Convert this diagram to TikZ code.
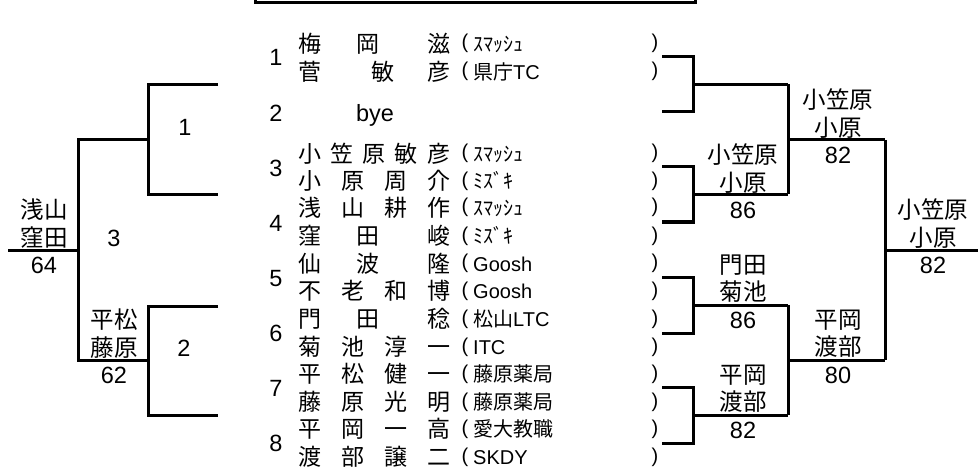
\documentclass[tikz,border=0pt]{standalone}
\usepackage{fontspec}
\setmainfont{Liberation Sans}
\newfontfamily\jp{Noto Sans CJK JP}

\begin{document}
\begin{tikzpicture}[x=1pt,y=-1pt, line join=miter]
				\useasboundingbox (0,0) rectangle (978,468);
				\clip (0,0) rectangle (978,468);
				
				% ===== style =====
				\tikzset{
					bk/.style={line width=3pt},
					num/.style={font=\fontsize{23.5}{27}\selectfont, inner sep=0pt, text height=20.7pt, text depth=2.8pt},
					who/.style={font=\jp\fontsize{23}{27}\selectfont, inner sep=0pt, anchor=west, text height=20.2pt, text depth=2.8pt},
					team/.style={font=\fontsize{20}{24}\selectfont, inner sep=0pt, anchor=west, text height=17.6pt, text depth=2.4pt},
					paren/.style={font=\fontsize{20}{24}\selectfont, inner sep=0pt, text height=15pt, text depth=5pt},
					win/.style={font=\jp\fontsize{23.5}{27.5}\selectfont, align=center, inner sep=0pt}
				}
				
				% ===== 見出し枠 =====
				\draw[bk] (255,-10) rectangle (695,2.5);
				
				% ===== 番号 =====
				\foreach \i in {1,...,8}{
					\node[num] (n\i) at (276,{57+55.1*(\i-1)}) {\i};
				}
				
				% ===== 選手・所属 =====
				\foreach \y/\nm/\tm [count=\k] in {
					44/{梅\hspace{35pt}岡\hfill 滋}/{\jp ｽﾏｯｼｭ},
					72/{菅\hspace{50pt}敏\hfill 彦}/{{\jp 県庁}TC},
					154/{小\hfill 笠\hfill 原\hfill 敏\hfill 彦}/{\jp ｽﾏｯｼｭ},
					181/{小\hfill 原\hfill 周\hfill 介}/{\jp ﾐｽﾞｷ},
					208/{浅\hfill 山\hfill 耕\hfill 作}/{\jp ｽﾏｯｼｭ},
					236/{窪\hspace{35pt}田\hfill 峻}/{\jp ﾐｽﾞｷ},
					264/{仙\hspace{35pt}波\hfill 隆}/{Goosh},
					291/{不\hfill 老\hfill 和\hfill 博}/{Goosh},
					319/{門\hspace{35pt}田\hfill 稔}/{{\jp 松山}LTC},
					347/{菊\hfill 池\hfill 淳\hfill 一}/{ITC},
					374/{平\hfill 松\hfill 健\hfill 一}/{\jp 藤原薬局},
					402/{藤\hfill 原\hfill 光\hfill 明}/{\jp 藤原薬局},
					429/{平\hfill 岡\hfill 一\hfill 高}/{\jp 愛大教職},
					457/{渡\hfill 部\hfill 譲\hfill 二}/{SKDY}}{
					\node[who] (p\k) at (298,\y) {\makebox[152pt][s]{\nm}};
					\node[paren] (lp\k) at (465,\y) {(};
					\node[team] (c\k) at (473,\y) {\tm};
					\node[paren] (rp\k) at (655,\y) {)};
				}
				\node[num] (bye) at (375,113) {bye};
				
				% ===== 左の山 =====
				\draw[bk] (218,85) -- (148,85) -- (148,195) -- (218,195);
				\draw[bk] (218,306) -- (148,306) -- (148,415) -- (218,415);
				\draw[bk] (148,140) -- (78,140) -- (78,360) -- (148,360);
				\draw[bk] (78,250) -- (8,250);
				\node[num] (g1) at (185,127) {1};
				\node[num] (g2) at (184,348) {2};
				\node[num] (g3) at (114,238) {3};
				
				% ===== 右の山 =====
				\foreach \t/\b in {57/112,167/222,277/333,387/443}{
					\draw[bk] (662,\t) -- (693,\t) -- (693,\b) -- (662,\b);
					\draw[bk] (693,{(\t+\b)/2}) -- (788,{(\t+\b)/2});
				}
				\draw[bk] (788,84.5) -- (788,194.5);
				\draw[bk] (788,305) -- (788,415);
				\draw[bk] (788,140) -- (885,140);
				\draw[bk] (788,360) -- (885,360);
				\draw[bk] (885,140) -- (885,360);
				\draw[bk] (885,250) -- (980,250);
				
				% ===== 勝者・スコア =====
				\foreach \x/\y/\pa/\pb/\sc [count=\k] in {
					44/250/浅山/窪田/64,
					114/360/平松/藤原/62,
					743/195/小笠原/小原/86,
					838/140/小笠原/小原/82,
					743/305/門田/菊池/86,
					743/415/平岡/渡部/82,
					838/360/平岡/渡部/80,
					933/250/小笠原/小原/82}{
					\node[win] (w\k) at (\x,\y-26.5) {\pa\\\pb};
					\node[num] (s\k) at (\x,\y+14.5) {\sc};
				}
			\end{tikzpicture}
\end{document}
